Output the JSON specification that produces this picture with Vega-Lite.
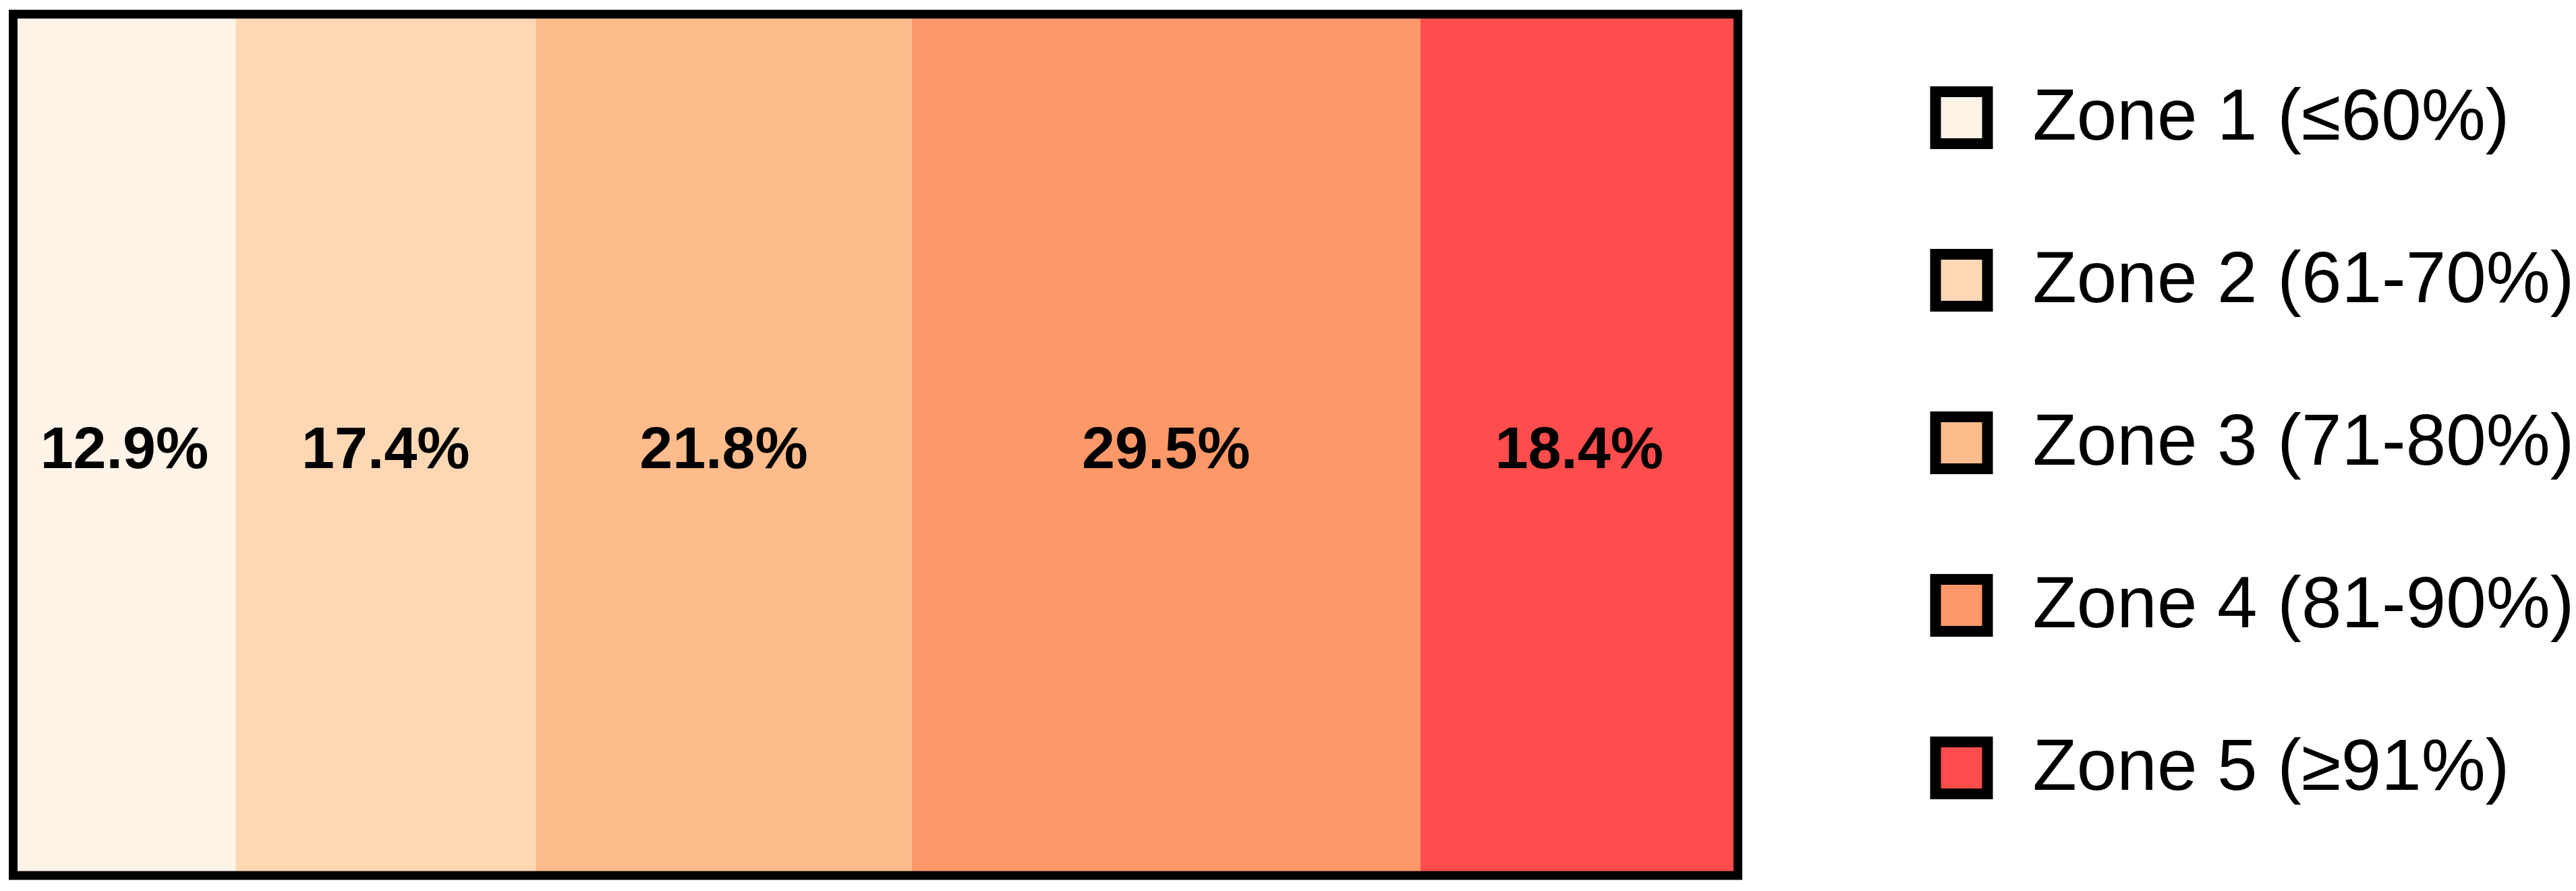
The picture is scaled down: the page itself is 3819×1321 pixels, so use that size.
{
  "$schema": "https://vega.github.io/schema/vega-lite/v6.json",
  "autosize": "none",
  "width": 2557,
  "height": 1277,
  "padding": {"left": 19.5, "top": 21, "right": 1242.5, "bottom": 23},
  "background": "white",
  "config": {"view": {"stroke": null}},
  "layer": [
    {
      "data": {"values": [
        {"zone": "Zone 1 (≤60%)", "value": 12.9, "label": "12.9%"},
        {"zone": "Zone 2 (61-70%)", "value": 17.4, "label": "17.4%"},
        {"zone": "Zone 3 (71-80%)", "value": 21.8, "label": "21.8%"},
        {"zone": "Zone 4 (81-90%)", "value": 29.5, "label": "29.5%"},
        {"zone": "Zone 5 (≥91%)", "value": 18.4, "label": "18.4%"}
      ]},
      "transform": [
        {"stack": "value", "groupby": [], "sort": [{"field": "zone", "order": "ascending"}], "as": ["start", "end"]},
        {"calculate": "(datum.start + datum.end) / 2", "as": "mid"}
      ],
      "layer": [
        {
          "mark": {"type": "bar", "stroke": null, "height": {"band": 1}},
          "encoding": {
            "x": {"field": "start", "type": "quantitative", "scale": {"domain": [0, 100], "nice": false, "zero": false}, "axis": null},
            "x2": {"field": "end"},
            "color": {
              "field": "zone", "type": "nominal",
              "scale": {
                "domain": ["Zone 1 (≤60%)", "Zone 2 (61-70%)", "Zone 3 (71-80%)", "Zone 4 (81-90%)", "Zone 5 (≥91%)"],
                "range": ["#FEF3E7", "#FED8B4", "#FEBB8C", "#FE9868", "#FF4C4C"]
              },
              "legend": {
                "orient": "none",
                "legendX": 2835,
                "legendY": 100,
                "title": null,
                "padding": 0,
                "symbolType": "square",
                "symbolSize": 5929,
                "symbolStrokeColor": "black",
                "symbolStrokeWidth": 16,
                "symbolOpacity": 1,
                "labelFont": "Liberation Sans",
                "labelFontSize": 107,
                "labelColor": "black",
                "labelLimit": 3000,
                "labelOffset": 52,
                "rowPadding": 100
              }
            }
          }
        },
        {
          "mark": {"type": "text", "font": "Liberation Sans", "fontWeight": "bold", "fontSize": 88, "color": "black", "baseline": "middle", "align": "center", "dy": 8},
          "encoding": {
            "x": {"field": "mid", "type": "quantitative"},
            "text": {"field": "label"}
          }
        }
      ]
    },
    {
      "data": {"values": [{}]},
      "mark": {"type": "bar", "fill": "transparent", "stroke": "black", "strokeWidth": 13, "height": {"band": 1}},
      "encoding": {
        "x": {"datum": 0, "type": "quantitative"},
        "x2": {"datum": 100}
      }
    }
  ]
}
